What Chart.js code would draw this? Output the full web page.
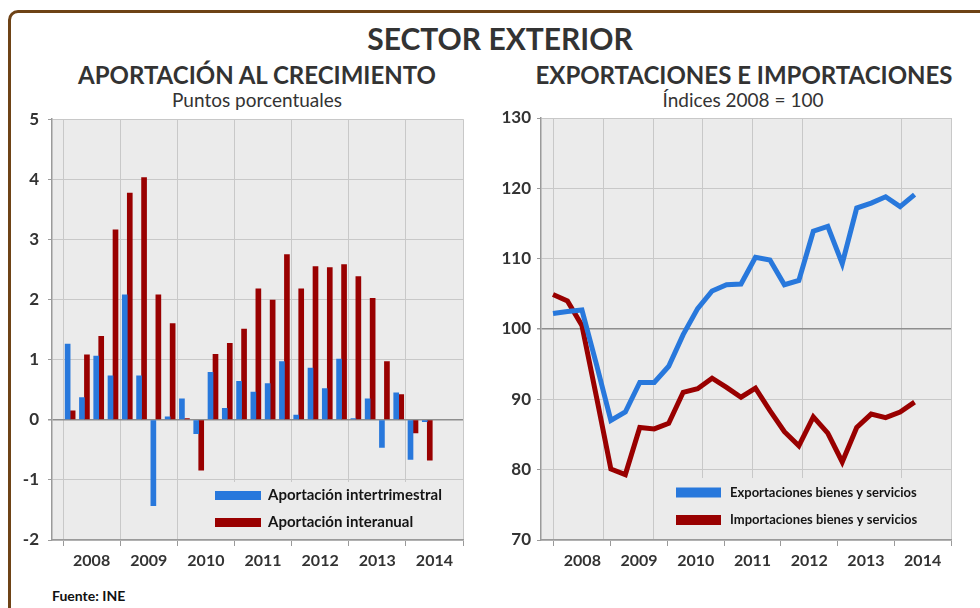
<!DOCTYPE html>
<html lang="es">
<head>
<meta charset="utf-8">
<title>Sector exterior</title>
<script src="https://cdn.jsdelivr.net/npm/chart.js@4.4.1/dist/chart.umd.min.js"></script>
<style>
  html, body { margin: 0; padding: 0; background: #fff; }
  body { position: relative; width: 980px; height: 608px; overflow: hidden; font-family: Lato, "Open Sans", sans-serif; color: #333; }
  .marco { position: absolute; left: 8px; top: 10px; width: 1010px; height: 700px; border: 3px solid #6e4316; border-radius: 10px; }
  .txt { position: absolute; width: 500px; text-align: center; white-space: nowrap; line-height: 1; }
  #titulo { left: 250px; top: 23px; font-size: 30px; font-weight: bold; }
  #t1 { left: 7px; top: 63px; font-size: 24px; font-weight: bold; }
  #s1 { left: 7px; top: 90px; font-size: 19px; }
  #t2 { left: 494px; top: 63px; font-size: 24px; font-weight: bold; }
  #s2 { left: 493px; top: 90px; font-size: 19px; }
  #fuente { position: absolute; left: 52px; top: 589px; font-size: 14px; font-weight: bold; color: #111; line-height: 1; }
  canvas { position: absolute; top: 100px; }
  #aportacion { left: 0; }
  #indices { left: 490px; }
</style>
</head>
<body>
<div class="marco"></div>
<div class="txt" id="titulo">SECTOR EXTERIOR</div>
<div class="txt" id="t1">APORTACIÓN AL CRECIMIENTO</div>
<div class="txt" id="s1">Puntos porcentuales</div>
<div class="txt" id="t2">EXPORTACIONES E IMPORTACIONES</div>
<div class="txt" id="s2">Índices 2008 = 100</div>
<canvas id="aportacion" width="480" height="480"></canvas>
<canvas id="indices" width="490" height="480"></canvas>
<div id="fuente">Fuente: INE</div>

<script>
// Datos trimestrales, 2008 T1 a 2014 T2
const years = ['2008', '2009', '2010', '2011', '2012', '2013', '2014'];
const trimestres = [
  'I-08', 'II-08', 'III-08', 'IV-08', 'I-09', 'II-09', 'III-09', 'IV-09',
  'I-10', 'II-10', 'III-10', 'IV-10', 'I-11', 'II-11', 'III-11', 'IV-11',
  'I-12', 'II-12', 'III-12', 'IV-12', 'I-13', 'II-13', 'III-13', 'IV-13',
  'I-14', 'II-14'
];

const aportIntertrimestral = [1.26, 0.37, 1.06, 0.73, 2.08, 0.73, -1.43, 0.05,
  0.35, -0.23, 0.79, 0.19, 0.64, 0.46, 0.60, 0.97, 0.08, 0.86, 0.52, 1.01,
  0.02, 0.35, -0.46, 0.45, -0.66, -0.03];
const aportInteranual = [0.15, 1.08, 1.39, 3.16, 3.77, 4.03, 2.08, 1.60,
  0.02, -0.84, 1.09, 1.27, 1.51, 2.18, 1.99, 2.75, 2.18, 2.55, 2.53, 2.58,
  2.38, 2.02, 0.97, 0.42, -0.22, -0.67];

const exportaciones = [102.2, 102.5, 102.7, 95.0, 87.0, 88.2, 92.4, 92.4,
  94.7, 99.2, 102.9, 105.4, 106.3, 106.4, 110.2, 109.8, 106.3, 106.9, 113.9, 114.6,
  109.3, 117.2, 117.9, 118.8, 117.4, 119.1];
const importaciones = [104.9, 104.0, 100.5, 90.4, 80.1, 79.3, 86.0, 85.8,
  86.6, 91.0, 91.5, 93.0, 91.7, 90.3, 91.6, 88.4, 85.4, 83.4, 87.5, 85.2,
  81.1, 86.0, 87.9, 87.4, 88.2, 89.6];

const ticksAportacion = [-2, -1, 0, 1, 2, 3, 4, 5];
const ticksIndices = [70, 80, 90, 100, 110, 120, 130];

// Estilos
const AZUL = '#2878dc';
const ROJO = '#990000';
const FONDO = '#ebebeb';
const REJILLA = '#c8c8c8';
const EJE = '#9a9a9a';
const TEXTO = '#333333';

// Fondo gris del área de trazado
const fondoArea = {
  id: 'fondoArea',
  beforeDraw(chart) {
    const { ctx, chartArea: a } = chart;
    ctx.save();
    ctx.fillStyle = FONDO;
    ctx.fillRect(a.left, a.top, a.right - a.left, a.bottom - a.top);
    ctx.restore();
  }
};

// Leyenda dentro del gráfico, abajo a la derecha
const leyendaInterior = {
  id: 'leyendaInterior',
  beforeDatasetsDraw(chart, args, opts) {
    const { ctx, chartArea: a } = chart;
    ctx.save();
    ctx.fillStyle = FONDO;
    ctx.fillRect(opts.left, opts.top, a.right - opts.left - 1, a.bottom - opts.top - 1);
    ctx.font = opts.font;
    ctx.textBaseline = 'middle';
    chart.data.datasets.forEach((ds, i) => {
      const y = opts.rows[i];
      ctx.fillStyle = ds.backgroundColor;
      ctx.fillRect(opts.swatchX, y - opts.swatchH / 2, opts.swatchW, opts.swatchH);
      ctx.fillStyle = '#151515';
      ctx.fillText(ds.label, opts.textX, y);
    });
    ctx.restore();
  }
};

function puntos(serie) {
  return trimestres.map((t, i) => ({ x: i, y: serie[i] }));
}

// Eje de años: rejilla, marcas y etiquetas centradas en cada año
function ejeAnios(min, rejillaEn) {
  return {
    type: 'linear',
    position: 'bottom',
    min: min,
    max: years.length,
    offset: false,
    afterBuildTicks: axis => {
      const porValor = new Map();
      const tick = v => {
        const k = v.toFixed(4);
        if (!porValor.has(k)) porValor.set(k, { value: v, rejilla: false, marca: false, anio: -1 });
        return porValor.get(k);
      };
      rejillaEn.forEach(v => { tick(v).rejilla = true; });
      years.forEach((y, i) => { tick(i).marca = true; tick(i + 0.5).anio = i; });
      tick(years.length).marca = true;
      axis.ticks = [...porValor.values()].sort((a, b) => a.value - b.value);
    },
    afterFit: axis => { axis.height = 40; },
    grid: {
      offset: false,
      color: c => (c.tick && c.tick.rejilla ? REJILLA : 'transparent'),
      tickColor: c => (c.tick && c.tick.marca ? EJE : 'transparent'),
      tickLength: 6
    },
    border: { color: EJE, width: 1.5 },
    ticks: {
      autoSkip: false,
      maxRotation: 0,
      padding: 5,
      color: TEXTO,
      font: { family: 'Lato', size: 16, weight: 'bold' },
      callback: (v, i, ts) => (ts[i].anio >= 0 ? years[ts[i].anio] : '')
    }
  };
}

function ejeValores(valores, ancho, relleno, base) {
  return {
    min: valores[0],
    max: valores[valores.length - 1],
    afterBuildTicks: axis => { axis.ticks = valores.map(v => ({ value: v })); },
    afterFit: axis => { axis.width = ancho; },
    grid: {
      color: c => (c.tick && c.tick.value === base ? '#8e8e8e' : REJILLA),
      lineWidth: c => (c.tick && c.tick.value === base ? 1.5 : 1),
      tickColor: EJE,
      tickLength: 4
    },
    border: { color: EJE, width: 1.5 },
    ticks: {
      padding: relleno,
      color: TEXTO,
      font: { family: 'Lato', size: 17, weight: 'bold' },
      callback: v => String(v)
    }
  };
}

const tooltipTrimestre = {
  callbacks: { title: items => trimestres[items[0].dataIndex] }
};

// 1. Aportación al crecimiento (barras)
new Chart(document.getElementById('aportacion'), {
  type: 'bar',
  data: {
    datasets: [{
      label: 'Aportación intertrimestral',
      data: aportIntertrimestral.map((v, i) => ({ x: i + 0.5, y: v })),
      backgroundColor: AZUL,
      barThickness: 5,
      borderWidth: 0
    }, {
      label: 'Aportación interanual',
      data: aportInteranual.map((v, i) => ({ x: i + 0.5, y: v })),
      backgroundColor: ROJO,
      barThickness: 5,
      borderWidth: 0
    }]
  },
  options: {
    responsive: false,
    animation: false,
    layout: { padding: { left: 0, right: 17, top: 18, bottom: 0 } },
    scales: {
      x: { type: 'linear', display: false, offset: false, min: -0.77, max: 28, grid: { offset: false } },
      years: ejeAnios(-0.193, [0, 1, 2, 3, 4, 5, 6, 7]),
      y: ejeValores(ticksAportacion, 52, 9, 0)
    },
    plugins: {
      legend: { display: false },
      tooltip: tooltipTrimestre,
      leyendaInterior: {
        left: 207, top: 382, swatchX: 215, swatchW: 46, swatchH: 9,
        textX: 268, rows: [395.5, 422.5], font: 'bold 15px Lato'
      }
    }
  },
  plugins: [fondoArea, leyendaInterior]
});

// 2. Exportaciones e importaciones (líneas)
new Chart(document.getElementById('indices'), {
  type: 'line',
  data: {
    datasets: [{
      label: 'Exportaciones bienes y servicios',
      data: puntos(exportaciones),
      borderColor: AZUL,
      backgroundColor: AZUL,
      borderWidth: 5,
      pointRadius: 0,
      tension: 0,
      fill: false
    }, {
      label: 'Importaciones bienes y servicios',
      data: puntos(importaciones),
      borderColor: ROJO,
      backgroundColor: ROJO,
      borderWidth: 5,
      pointRadius: 0,
      tension: 0,
      fill: false
    }]
  },
  options: {
    responsive: false,
    animation: false,
    layout: { padding: { left: 0, right: 29, top: 18, bottom: 0 } },
    scales: {
      x: { type: 'linear', display: false, min: -0.83, max: 27.52 },
      years: ejeAnios(-0.229, [0, 1, 2, 3, 4, 5, 7, 8].map(k => k * 7 / 8)),
      y: ejeValores(ticksIndices, 51, 6, 100)
    },
    plugins: {
      legend: { display: false },
      tooltip: tooltipTrimestre,
      leyendaInterior: {
        left: 170, top: 378, swatchX: 186, swatchW: 45, swatchH: 10,
        textX: 240, rows: [392.5, 420], font: 'bold 13px Lato'
      }
    }
  },
  plugins: [fondoArea, leyendaInterior]
});
</script>
</body>
</html>
